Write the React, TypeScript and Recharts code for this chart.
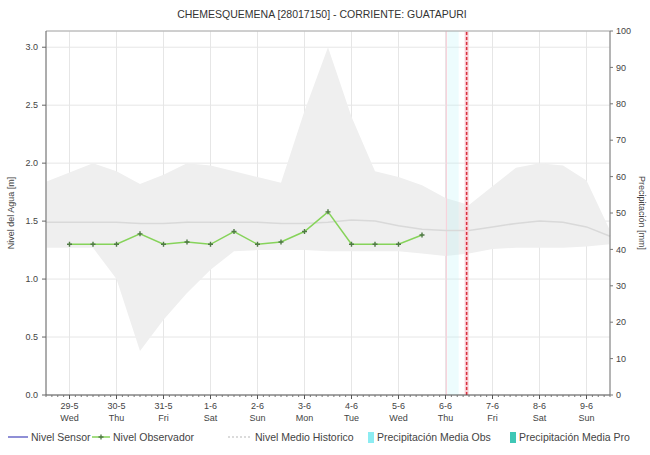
import React from 'react';
import { ComposedChart, Area, Line, XAxis, YAxis, CartesianGrid, ReferenceLine, ReferenceArea } from 'recharts';

// tiempo en dias desde 29-5 00:00, cada 12 horas
const horas = [0, 0.5, 1, 1.5, 2, 2.5, 3, 3.5, 4, 4.5, 5, 5.5, 6, 6.5, 7, 7.5, 8, 8.5, 9, 9.5, 10, 10.5, 11, 11.5, 12];

const historicoMax = [1.84, 1.92, 2.0, 1.93, 1.82, 1.9, 2.0, 1.98, 1.93, 1.88, 1.83, 2.45, 3.0, 2.4, 1.93, 1.88, 1.81, 1.7, 1.64, 1.8, 1.96, 2.0, 1.98, 1.85, 1.42];
const historicoMin = [1.27, 1.27, 1.27, 1.0, 0.38, 0.65, 0.88, 1.08, 1.24, 1.25, 1.25, 1.25, 1.24, 1.24, 1.24, 1.24, 1.22, 1.2, 1.22, 1.26, 1.27, 1.27, 1.27, 1.28, 1.3];
const nivelMedio = [1.49, 1.49, 1.49, 1.49, 1.48, 1.48, 1.49, 1.49, 1.49, 1.49, 1.48, 1.48, 1.49, 1.51, 1.5, 1.46, 1.43, 1.42, 1.42, 1.45, 1.48, 1.5, 1.49, 1.45, 1.37];
const nivelObservador = [null, 1.3, 1.3, 1.3, 1.39, 1.3, 1.32, 1.3, 1.41, 1.3, 1.32, 1.41, 1.58, 1.3, 1.3, 1.3, 1.38, null, null, null, null, null, null, null, null];
// sin precipitacion registrada en el periodo
const precipitacionObs = [null, null, null, null, null, null, null, null, null, null, null, null, null, null, null, null, null, null, null, null, null, null, null, null, null];

const diasTicks = [0.5, 1.5, 2.5, 3.5, 4.5, 5.5, 6.5, 7.5, 8.5, 9.5, 10.5, 11.5];
const diasFecha = ['29-5', '30-5', '31-5', '1-6', '2-6', '3-6', '4-6', '5-6', '6-6', '7-6', '8-6', '9-6'];
const diasNombre = ['Wed', 'Thu', 'Fri', 'Sat', 'Sun', 'Mon', 'Tue', 'Wed', 'Thu', 'Fri', 'Sat', 'Sun'];
const nivelTicks = [0, 0.5, 1, 1.5, 2, 2.5, 3];
const precTicks = [0, 10, 20, 30, 40, 50, 60, 70, 80, 90, 100];

const ahora = 8.95;
const marcaRosa = 8.52;
const franjaCian = [8.54, 8.78];
const nivelTope = 3.14;

// marcas menores cada 3 horas
const ticksMenores = Array.from({ length: 97 }, (_, i) => i * 0.125);

const data = horas.map((t, i) => ({
  t,
  rango: [historicoMin[i], historicoMax[i]],
  medio: nivelMedio[i],
  obs: nivelObservador[i],
  prec: precipitacionObs[i],
}));

const FONT = '"Liberation Sans", Arial, sans-serif';

const DiaTick = (props: any) => {
  const { x, y, payload } = props;
  const k = diasTicks.indexOf(payload.value);
  if (k < 0) {
    return <line x1={x} x2={x} y1={y} y2={y + 2} stroke="#777" />;
  }
  return (
    <g>
      <line x1={x} x2={x} y1={y} y2={y + 4} stroke="#555" />
      <text x={x} y={y + 14} textAnchor="middle" fontSize={9} fill="#444" fontFamily={FONT}>{diasFecha[k]}</text>
      <text x={x} y={y + 26} textAnchor="middle" fontSize={9} fill="#444" fontFamily={FONT}>{diasNombre[k]}</text>
    </g>
  );
};

const Cruz = (props: any) => {
  const { cx, cy, value, index } = props;
  if (cx == null || cy == null || value == null) return <g key={`c-${index}`} />;
  return (
    <path
      key={`c-${index}`}
      d={`M${cx - 2.5},${cy}H${cx + 2.5}M${cx},${cy - 2.5}V${cy + 2.5}`}
      stroke="#4f7a44"
      strokeWidth={1.4}
    />
  );
};

const leyenda = [
  { label: 'Nivel Sensor', left: 8, kind: 'sensor' },
  { label: 'Nivel Observador', left: 92, kind: 'obs' },
  { label: 'Nivel Medio Historico', left: 228, kind: 'medio' },
  { label: 'Precipitación Media Obs', left: 368, kind: 'pobs' },
  { label: 'Precipitación Media Pro', left: 510, kind: 'ppro' },
];

const Icono = ({ kind }: { kind: string }) => {
  if (kind === 'sensor') return <svg width={20} height={10}><line x1={0} x2={20} y1={5} y2={5} stroke="#8f8fd6" strokeWidth={2} /></svg>;
  if (kind === 'obs')
    return (
      <svg width={18} height={10}>
        <line x1={0} x2={18} y1={5} y2={5} stroke="#86d35a" strokeWidth={1.5} />
        <path d="M6.5,5H11.5M9,2.5V7.5" stroke="#4f7a44" strokeWidth={1.3} />
      </svg>
    );
  if (kind === 'medio') return <svg width={24} height={10}><line x1={0} x2={24} y1={5} y2={5} stroke="#d0d0d0" strokeWidth={1.5} strokeDasharray="2 2" /></svg>;
  const fill = kind === 'pobs' ? '#8cecf2' : '#3fc7b6';
  return <svg width={6} height={11}><rect x={0} y={0} width={6} height={11} fill={fill} /></svg>;
};

export default function App() {
  return (
    <div style={{ position: 'relative', width: 650, height: 455, background: '#fff', fontFamily: FONT }}>
      <style>{'body{margin:0}'}</style>
      <div style={{ position: 'absolute', top: 8, left: 0, width: 644, textAlign: 'center', fontSize: 10.5, color: '#333' }}>
        CHEMESQUEMENA [28017150] - CORRIENTE: GUATAPURI
      </div>
      <ComposedChart width={650} height={455} data={data} margin={{ top: 31, right: 0, bottom: 25, left: 0 }}>
        <CartesianGrid xAxisId="dias" yAxisId="nivel" stroke="#e6e6e6" />
        <XAxis xAxisId="dias" orientation="top" height={0} dataKey="t" type="number" domain={[0, 12]} ticks={diasTicks} interval={0} hide />
        <XAxis
          xAxisId="menor"
          dataKey="t"
          type="number"
          domain={[0, 12]}
          ticks={ticksMenores}
          interval={0}
          tick={<DiaTick />}
          tickLine={false}
          tickSize={0}
          tickMargin={0}
          height={35}
          axisLine={{ stroke: '#555' }}
        />
        <YAxis
          yAxisId="nivel"
          width={46}
          domain={[0, nivelTope]}
          ticks={nivelTicks}
          tickFormatter={(v: number) => v.toFixed(1)}
          tick={{ fontSize: 9, fill: '#444', fontFamily: FONT }}
          tickSize={4}
          tickMargin={4}
          axisLine={{ stroke: '#666' }}
          tickLine={{ stroke: '#666' }}
          allowDataOverflow
          label={{
            content: (p: any) => {
              const cy = p.viewBox.y + p.viewBox.height / 2;
              return (
                <text x={12} y={cy} transform={`rotate(-90, 12, ${cy})`} textAnchor="middle" dominantBaseline="middle" fontSize={9} fill="#444" fontFamily={FONT}>
                  Nivel del Agua [m]
                </text>
              );
            },
          }}
        />
        <YAxis
          yAxisId="prec"
          orientation="right"
          width={40}
          type="number"
          domain={[0, 100]}
          allowDataOverflow
          ticks={precTicks}
          interval={0}
          tick={{ fontSize: 9, fill: '#444', fontFamily: FONT }}
          tickSize={3}
          tickMargin={3}
          axisLine={{ stroke: '#777' }}
          tickLine={{ stroke: '#777' }}
          label={{
            content: (p: any) => {
              const cy = p.viewBox.y + p.viewBox.height / 2;
              return (
                <text x={641} y={cy} transform={`rotate(90, 641, ${cy})`} textAnchor="middle" dominantBaseline="middle" fontSize={9} fill="#444" fontFamily={FONT}>
                  Precipitación [mm]
                </text>
              );
            },
          }}
        />
        <Area
          xAxisId="menor"
          yAxisId="nivel"
          type="linear"
          dataKey="rango"
          stroke="none"
          fill="#efefef"
          fillOpacity={1}
          isAnimationActive={false}
          activeDot={false}
        />
        <ReferenceArea xAxisId="menor" yAxisId="nivel" x1={franjaCian[0]} x2={franjaCian[1]} y1={0} y2={nivelTope} fill="#bff3f8" fillOpacity={0.28} stroke="none" />
        <ReferenceLine xAxisId="menor" yAxisId="nivel" x={marcaRosa} stroke="#f7d3dc" strokeWidth={1.2} />
        <Line
          xAxisId="menor"
          yAxisId="prec"
          type="linear"
          dataKey="prec"
          stroke="#8cecf2"
          dot={false}
          activeDot={false}
          isAnimationActive={false}
        />
        <Line
          xAxisId="menor"
          yAxisId="nivel"
          type="linear"
          dataKey="medio"
          stroke="#d9d9d9"
          strokeWidth={1.5}
          dot={false}
          activeDot={false}
          isAnimationActive={false}
        />
        <Line
          xAxisId="menor"
          yAxisId="nivel"
          type="linear"
          dataKey="obs"
          stroke="#86d35a"
          strokeWidth={1.5}
          dot={<Cruz />}
          activeDot={false}
          connectNulls={false}
          isAnimationActive={false}
        />
        <ReferenceLine xAxisId="menor" yAxisId="nivel" x={ahora} stroke="#f9d0d6" strokeWidth={4} />
        <ReferenceLine xAxisId="menor" yAxisId="nivel" x={ahora} stroke="#d9303f" strokeWidth={1.5} strokeDasharray="3 2" />
        <ReferenceLine xAxisId="menor" yAxisId="nivel" y={nivelTope} stroke="#aaa" strokeWidth={1} />
      </ComposedChart>
      {leyenda.map((it) => (
        <div
          key={it.label}
          style={{ position: 'absolute', top: 431, left: it.left, display: 'flex', alignItems: 'center', fontSize: 10.5, color: '#444', whiteSpace: 'nowrap' }}
        >
          <Icono kind={it.kind} />
          <span style={{ marginLeft: 3 }}>{it.label}</span>
        </div>
      ))}
    </div>
  );
}
